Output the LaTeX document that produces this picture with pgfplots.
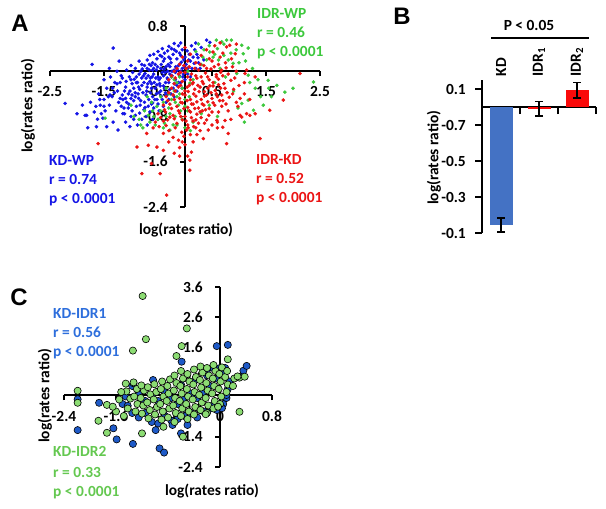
\documentclass[border=0pt]{standalone}
\usepackage{fontspec}
\setmainfont{Carlito}
\newfontfamily\arialfont{Liberation Sans}
\usepackage{pgfplots}
\pgfplotsset{compat=1.18}
\definecolor{Ablue}{RGB}{20,20,230}
\definecolor{Agreen}{RGB}{60,200,60}
\definecolor{Ared}{RGB}{235,20,20}
\definecolor{Bblue}{RGB}{68,114,196}
\definecolor{Bred}{RGB}{250,10,10}
\definecolor{Cblue}{RGB}{30,90,200}
\definecolor{Cgreen}{RGB}{140,220,115}
\definecolor{Ctblue}{RGB}{45,110,220}
\definecolor{Ctgreen}{RGB}{100,200,80}
\newcommand{\lbl}{\fontsize{15.5}{18}\selectfont\bfseries}
\pgfplotsset{myaxis/.style={scale only axis, axis lines=middle,
  axis line style={-, line width=1.6bp, black},
  every tick/.style={line width=1.6bp, black},
  major tick length=5bp, tick align=outside,
  hide obscured x ticks=false, hide obscured y ticks=false,
  ticklabel style={font=\lbl, inner sep=0pt},
  clip=false}}
\begin{document}
\begin{tikzpicture}
\useasboundingbox (0bp,0bp) rectangle (606bp,509bp);
% ---------------- Panel A
\begin{axis}[myaxis, at={(50bp,302bp)}, anchor=south west,
  width=270bp, height=181bp,
  xmin=-2.5, xmax=2.5, ymin=-2.4, ymax=0.8,
  xtick={-2.5,-1.5,-0.5,0.5,1.5,2.5},
  xticklabels={-2.5,-1.5,-0.5,0.5,1.5,2.5},
  ytick={0.8,0,-0.8,-1.6,-2.4},
  yticklabels={0.8,0,-0.8,-1.6,-2.4},
  xticklabel style={anchor=north, yshift=-10bp},
  yticklabel style={anchor=east, xshift=-12bp}]
\addplot[only marks, mark=*, mark size=1.6bp, color=Ablue] coordinates {
(-0.05,0.05)(-0.12,0.1)(-0.2,0.02)(-0.28,-0.05)(-0.35,0.08)(-0.42,-0.02)(-0.5,-0.1)(-0.58,-0.05)(-0.65,-0.18)(-0.72,-0.12)(-0.8,-0.25)(-0.88,-0.2)(-0.95,-0.3)(-0.1,-0.08)(-0.18,-0.15)(-0.26,0.15)(-0.33,-0.12)(-0.4,0.18)(-0.47,-0.22)(-0.55,0.12)(-0.62,-0.3)(-0.7,0.05)(-0.78,-0.38)(-0.85,-0.05)(-0.92,-0.45)(-1.0,-0.15)(-1.05,-0.4)(-1.1,-0.28)(-1.15,-0.5)(-1.2,-0.2)(-1.25,-0.35)(-0.02,0.2)(-0.08,0.28)(-0.15,0.22)(-0.22,0.3)(-0.3,0.25)(0.02,0.12)(0.05,-0.05)(0.08,0.3)(0.1,0.18)(0.15,0.25)(0.18,0.38)(0.22,0.3)(0.25,0.15)(0.3,0.42)(0.12,0.45)(-0.05,0.38)(-0.12,0.45)(-0.25,0.4)(-0.38,0.32)(-0.45,0.05)(-0.52,0.22)(-0.6,0.15)(-0.68,-0.08)(-0.75,0.1)(-0.82,0.0)(-0.9,-0.1)(-0.97,-0.02)(-1.03,-0.1)(-0.3,-0.2)(-0.38,-0.3)(-0.45,-0.35)(-0.53,-0.4)(-0.6,-0.45)(-0.67,-0.5)(-0.75,-0.55)(-0.83,-0.6)(-0.9,-0.62)(-0.98,-0.7)(-1.05,-0.65)(-1.12,-0.75)(-0.22,-0.3)(-0.15,-0.25)(-0.08,-0.2)(0.0,-0.15)(-0.35,-0.42)(-0.42,-0.5)(-0.5,-0.58)(-0.58,-0.65)(-0.65,-0.72)(-0.72,-0.8)(-0.8,-0.85)(-0.55,-0.3)(-0.48,-0.15)(-0.4,-0.08)(-0.32,0.0)(-0.25,-0.1)(-0.62,-0.22)(-0.7,-0.28)(-0.76,-0.2)(-0.84,-0.32)(-0.92,-0.38)(-1.0,-0.48)(-1.08,-0.55)(-1.18,-0.62)(-1.28,-0.7)(-1.35,-0.45)(-1.4,-0.6)(-1.45,-0.3)(-1.5,-0.5)(-1.55,-0.75)(-1.6,-0.4)(-1.65,-0.62)(-1.72,0.12)(-1.33,0.41)(-1.22,0.18)(-1.26,0.0)(-1.45,-0.98)(-1.64,-0.98)(-1.82,-0.78)(-1.33,-0.9)(-1.24,-1.04)(-1.02,-0.98)(-1.57,-0.6)(-1.15,-0.75)(-1.39,-0.42)(-2.22,-0.57)(-1.85,-0.78)(-1.8,-1.0)(-1.52,-0.83)(-0.2,0.49)(0.4,0.55)(0.46,0.51)(-0.5,0.35)(-0.65,0.28)(-0.85,0.18)(-1.0,0.1)(-0.15,-0.35)(-0.05,-0.3)(0.05,0.05)(0.1,-0.1)(0.2,0.05)(-0.3,-0.5)(-0.2,-0.45)(-0.95,-0.85)(-0.88,-0.95)(-0.7,-0.95)(-1.1,-0.9)(-0.6,-0.85)(-1.2,-0.48)(-1.3,-0.2)(-1.38,-0.1)(-1.48,-0.7)(-1.62,-0.85)(-1.75,-0.55)(-2.0,-0.75)(-1.9,-0.6)(-0.58,0.05)(-0.44,0.12)(-0.36,-0.2)(-0.28,0.08)(-0.18,-0.02)(-0.1,0.12)(-0.66,0.02)(-0.74,-0.04)(-0.8,-0.12)(-0.54,-0.12)(-0.46,-0.26)(-0.38,0.22)(-0.16,0.35)(0.0,0.25)(0.35,0.2)(0.28,0.05)(-1.12,-0.35)(-1.18,-0.08)(-0.98,-0.22)(-0.86,-0.48)(-0.72,-0.42)(-0.64,-0.38)(-0.4,-0.62)(-0.48,-0.7)(-0.35,-0.55)
(-0.03,-0.05)(-0.14,0.02)(-0.24,-0.08)(-0.31,0.12)(-0.39,0.04)(-0.46,-0.12)(-0.53,0.02)(-0.61,-0.1)(-0.69,-0.22)(-0.77,-0.08)(-0.86,-0.28)(-0.94,-0.14)(-1.02,-0.35)(-1.09,-0.18)(-1.16,-0.42)(-1.23,-0.55)(-1.31,-0.38)(-0.07,0.16)(-0.17,0.08)(-0.27,0.22)(-0.37,-0.02)(-0.43,0.26)(-0.51,0.08)(-0.57,-0.2)(-0.63,0.1)(-0.71,-0.35)(-0.79,0.04)(-0.87,-0.4)(-0.95,-0.52)(-1.04,-0.58)(-1.13,-0.65)(-0.2,-0.22)(-0.28,-0.32)(-0.36,-0.38)(-0.44,-0.44)(-0.52,-0.5)(-0.6,-0.56)(-0.68,-0.62)(-0.76,-0.68)(-0.84,-0.74)(-0.92,-0.78)(0.04,0.36)(0.13,0.05)(0.17,0.14)(0.24,0.24)(0.07,0.2)(-0.1,0.32)(-0.2,0.38)(-0.32,0.36)(-0.46,0.28)(-0.58,0.3)(-0.7,0.2)(-0.8,0.12)(-0.92,0.05)(-1.08,0.02)(-1.16,-0.12)(-1.26,-0.22)(-1.34,-0.3)(-1.42,-0.45)(-1.5,-0.62)(-1.58,-0.5)(-1.68,-0.72)(-1.1,-0.48)(-0.98,-0.42)(-0.82,-0.52)(-0.74,-0.64)(-0.62,-0.58)(-0.56,-0.5)(-0.48,-0.38)(-0.4,-0.26)(-0.32,-0.14)(-0.24,0.0)(-0.16,0.06)(-0.08,0.0)(0.0,0.06)(-0.04,-0.1)(-0.12,-0.2)(-0.26,-0.4)(-0.6,0.02)(-0.66,0.12)(-0.9,-0.2)(-0.64,-0.12)(-0.52,-0.24)(-0.42,0.4)(-0.3,0.44)(-0.08,0.5)(0.2,0.5)(-1.4,0.05)(-1.5,-0.15)(-1.0,-0.8)
};
\addplot[only marks, mark=*, mark size=1.6bp, color=Agreen] coordinates {
(0.68,0.52)(0.77,0.55)(0.86,0.55)(1.05,0.46)(1.17,0.41)(1.08,0.31)(0.89,0.14)(0.96,-0.04)(1.17,-0.07)(1.54,-0.16)(1.85,-0.37)(2.38,-0.19)(1.17,-0.51)(1.05,-0.57)(1.27,-0.69)(0.52,0.25)(0.46,0.34)(0.09,-0.21)(0.6,0.4)(0.55,0.3)(0.4,0.2)(0.35,0.38)(0.3,0.12)(0.72,0.28)(0.8,0.2)(0.65,0.05)(0.75,-0.1)(1.0,0.15)(1.3,-0.3)(1.4,-0.45)(0.9,-0.35)(1.2,-0.2)(0.2,0.35)(0.25,0.48)
(-0.68,-0.78)(-0.78,-1.0)(-0.28,-1.04)(-0.15,-0.2)(-0.2,-0.35)(-0.25,-0.5)(-0.3,-0.65)(-0.35,-0.8)(-0.4,-0.55)(-0.45,-0.7)(-0.5,-0.85)(-0.55,-0.95)(-0.6,-0.7)(-0.65,-0.9)(-0.1,-0.1)(-0.05,-0.3)(0.0,-0.5)(0.05,-0.7)(-0.12,-0.6)(-0.18,-0.8)(0.1,-1.05)(0.15,-0.9)(0.3,-0.75)(-0.22,-0.95)(-0.85,-0.85)(-0.95,-0.8)(-1.0,-0.6)(-0.7,-0.45)(-0.35,-0.3)(-0.25,-0.1)(0.05,0.0)(0.15,-0.15)(1.55,-0.3)(1.7,-0.25)(0.55,-0.2)(0.45,-0.6)(0.6,-0.8)(-1.48,-0.83)(-0.15,-0.45)(-0.08,-0.7)
(0.58,0.55)(0.72,0.48)(0.95,0.38)(1.12,0.18)(1.25,0.05)(1.35,-0.15)(1.45,-0.6)(1.6,-0.45)(0.98,-0.65)(1.1,-0.9)(0.45,0.45)(0.33,0.25)(0.62,0.2)(0.85,0.32)(2.0,-0.3)(-0.18,-0.55)(-0.28,-0.75)(-0.38,-0.92)(-0.45,-0.45)(-0.52,-0.62)(-0.58,-0.8)(-0.62,-0.55)(-0.75,-0.7)(-0.82,-0.95)(-0.1,-0.4)(0.0,-0.62)(-0.05,-0.85)(0.08,-0.45)(-0.3,-0.4)(-0.2,-0.15)(-0.15,-0.95)(0.0,-1.0)(-0.4,-1.0)
};
\addplot[only marks, mark=*, mark size=1.6bp, color=Ared] coordinates {
(0.55,0.45)(0.77,0.43)(0.83,0.46)(0.65,0.5)(0.95,0.48)(0.0,0.42)
(0.52,0.34)(0.93,0.31)(0.3,0.28)(0.1,0.3)(0.7,0.32)(-0.05,0.25)(0.45,0.22)
(-0.1,0.12)(0.05,0.18)(0.2,0.15)(0.35,0.1)(0.5,0.18)(0.62,0.12)(0.75,0.15)(0.88,0.08)(1.14,0.02)(1.11,-0.04)(2.13,-0.04)
(-0.2,0.0)(-0.08,-0.02)(0.02,0.05)(0.12,-0.05)(0.25,0.02)(0.38,-0.03)(0.48,0.04)(0.58,-0.06)(0.68,0.02)(0.8,-0.05)(0.95,0.0)(1.3,-0.1)
(-0.3,-0.15)(-0.18,-0.12)(-0.05,-0.18)(0.05,-0.1)(0.15,-0.2)(0.22,-0.12)(0.32,-0.18)(0.42,-0.1)(0.52,-0.2)(0.62,-0.14)(0.72,-0.22)(0.85,-0.16)(1.0,-0.25)
(-0.25,-0.3)(-0.12,-0.28)(0.0,-0.35)(0.08,-0.25)(0.18,-0.32)(0.28,-0.28)(0.36,-0.36)(0.46,-0.26)(0.56,-0.34)(0.66,-0.3)(0.78,-0.38)(0.9,-0.32)(1.1,-0.4)
(-0.35,-0.45)(-0.22,-0.42)(-0.1,-0.48)(0.0,-0.42)(0.1,-0.5)(0.2,-0.44)(0.3,-0.5)(0.4,-0.42)(0.5,-0.48)(0.6,-0.45)(0.7,-0.52)(0.82,-0.46)(0.95,-0.55)(1.2,-0.5)
(-0.4,-0.6)(-0.28,-0.58)(-0.15,-0.62)(-0.05,-0.56)(0.05,-0.64)(0.15,-0.58)(0.25,-0.65)(0.35,-0.6)(0.45,-0.66)(0.55,-0.6)(0.68,-0.62)(0.8,-0.7)(1.82,-0.51)
(-0.5,-0.75)(-0.36,-0.72)(-0.22,-0.78)(-0.1,-0.74)(0.0,-0.8)(0.1,-0.72)(0.22,-0.76)(0.32,-0.7)(0.44,-0.78)(0.59,-0.87)(0.74,-0.87)(1.02,-0.78)(1.14,-0.75)(1.30,-0.75)(1.57,-0.69)(1.2,-0.78)(1.05,-0.81)
(-0.55,-0.9)(-0.4,-0.88)(-0.28,-0.81)(-0.15,-0.92)(-0.05,-0.86)(0.05,-0.95)(0.15,-0.88)(0.25,-0.92)(0.4,-0.86)(0.7,-0.99)(0.5,-0.95)
(-0.59,-1.0)(-0.4,-1.1)(-0.22,-1.17)(-0.12,-1.22)(0.03,-1.04)(0.43,-1.04)(0.34,-1.19)(0.8,-1.1)(-0.71,-1.1)(0.1,-1.12)(-0.3,-1.05)(0.2,-1.0)
(-0.52,-1.34)(-0.89,-1.34)(-0.68,-1.31)(-1.61,-1.28)(-0.80,-1.81)(-0.46,-1.81)(-0.34,-2.19)(0.09,-1.75)(0.09,-1.57)(0.12,-1.43)(-0.62,-1.63)(1.39,-1.19)(0.77,-1.28)(-0.1,-1.35)(0.0,-1.3)(-0.2,-1.45)(0.05,-1.5)(-0.4,-1.4)(-0.05,-1.25)
(-0.15,0.05)(-0.02,0.1)(0.08,0.08)(0.18,0.05)(0.28,0.12)(0.4,0.05)(0.54,0.08)(0.66,-0.02)(0.76,0.06)(-0.25,-0.08)(-0.12,-0.05)(0.0,-0.02)(0.1,-0.15)(0.2,-0.08)(0.3,-0.1)(0.45,-0.15)(0.58,-0.1)(0.7,-0.08)(-0.2,-0.22)(-0.08,-0.25)(0.04,-0.28)(0.14,-0.22)(0.24,-0.25)(0.34,-0.22)(0.42,-0.3)(0.52,-0.26)(0.62,-0.24)(0.74,-0.3)(-0.3,-0.38)(-0.18,-0.35)(-0.05,-0.4)(0.06,-0.36)(0.16,-0.4)(0.26,-0.36)(0.36,-0.44)(0.48,-0.38)(0.58,-0.4)(0.68,-0.42)(0.88,-0.4)(-0.32,-0.52)(-0.2,-0.5)(-0.08,-0.55)(0.04,-0.52)(0.12,-0.58)(0.22,-0.54)(0.32,-0.58)(0.42,-0.54)(0.52,-0.56)(0.64,-0.52)(0.76,-0.58)(-0.38,-0.68)(-0.25,-0.66)(-0.12,-0.7)(-0.02,-0.66)(0.08,-0.7)(0.18,-0.66)(0.28,-0.72)(0.38,-0.68)(0.5,-0.72)(0.62,-0.72)(-0.45,-0.82)(-0.32,-0.86)(-0.2,-0.84)(-0.08,-0.8)(0.02,-0.88)(0.12,-0.82)(0.2,-0.86)(0.3,-0.82)(0.36,-0.92)(-0.48,-0.98)(-0.35,-0.96)(-0.18,-1.0)(-0.06,-1.08)(0.06,-1.0)(0.16,-0.98)(0.28,-1.05)(-0.02,-1.15)(0.22,-1.12)(0.98,-0.62)(0.92,-0.12)(0.86,0.22)(1.02,-0.48)(1.1,-0.2)(0.6,-0.9)(0.85,-0.85)(0.65,0.25)(0.4,0.38)(-0.1,-1.5)(0.15,-1.25)(-0.3,-1.25)(0.6,-1.0)
};
\end{axis}
% ---------------- Panel B
\begin{axis}[myaxis, at={(482bp,276bp)}, anchor=south west,
  width=114bp, height=153bp,
  xmin=0, xmax=3, ymin=-0.7, ymax=0.15,
  major tick length=7bp,
  xtick={1,2,3}, xticklabels={},
  ytick={0.1,-0.1,-0.3,-0.5,-0.7},
  yticklabels={0.1,-0.7,-0.5,-0.3,-0.1},
  yticklabel style={anchor=east, xshift=-9bp}]
\addplot[ybar, bar width=23bp, bar shift=0pt, fill=Bblue, draw=none,
  error bars/.cd, y dir=both, y explicit,
  error bar style={line width=1.5bp, black},
  error mark options={rotate=90, mark size=4bp, line width=1.5bp, black}]
  coordinates {(0.5,-0.656) +- (0,0.038)};
\addplot[ybar, bar width=23bp, bar shift=0pt, fill=Bred, draw=none,
  error bars/.cd, y dir=both, y explicit,
  error bar style={line width=1.5bp, black},
  error mark options={rotate=90, mark size=4bp, line width=1.5bp, black}]
  coordinates {(1.5,-0.01) +- (0,0.04)};
\addplot[ybar, bar width=23bp, bar shift=0pt, fill=Bred, draw=none,
  error bars/.cd, y dir=both, y explicit,
  error bar style={line width=1.5bp, black},
  error mark options={rotate=90, mark size=4bp, line width=1.5bp, black}]
  coordinates {(2.5,0.092) +- (0,0.043)};
\node[rotate=90, anchor=west, font=\lbl, inner sep=0pt] at (axis cs:0.5,0.17) {KD};
\node[rotate=90, anchor=west, font=\lbl, inner sep=0pt] at (axis cs:1.5,0.17) {IDR\textsubscript{1}};
\node[rotate=90, anchor=west, font=\lbl, inner sep=0pt] at (axis cs:2.5,0.17) {IDR\textsubscript{2}};
\end{axis}
% ---------------- Panel C
\begin{axis}[myaxis, at={(64bp,42bp)}, anchor=south west,
  width=208bp, height=180bp,
  xmin=-2.4, xmax=0.8, ymin=-2.4, ymax=3.6,
  xtick={-2.4,-1.6,-0.8,0,0.8},
  xticklabels={-2.4,-1.6,-0.8,0,0.8},
  ytick={3.6,2.6,1.6,0.6,-0.4,-1.4,-2.4},
  yticklabels={3.6,2.6,1.6,0.6,-0.4,-1.4,-2.4},
  xticklabel style={anchor=north, yshift=-11bp},
  yticklabel style={anchor=east, xshift=-12bp}]
\addplot[only marks, mark=*, mark size=3.6bp, mark options={draw=black, line width=0.6bp, fill=Cblue}] coordinates {
(-1.5,-0.3)(-1.45,-0.05)(-1.35,-0.6)(-1.25,-0.75)(-1.15,-0.6)(-1.05,-0.9)(-0.95,-0.95)(-0.85,-0.7)(-0.75,-0.85)(-0.65,-0.8)(-0.55,-0.7)(-0.45,-0.6)(-0.35,-0.75)(-0.25,-0.55)(-0.15,-0.45)(-0.05,-0.5)(0.05,-0.3)(0.1,-0.1)(0.12,0.2)(0.15,0.45)(0.05,0.7)(-0.05,0.55)(-0.15,0.3)(-0.25,0.1)(-0.35,-0.1)(-0.45,0.05)(-0.55,-0.15)(-0.65,-0.3)(-0.75,-0.1)(-0.85,0.1)(-0.95,-0.2)(-1.05,0.0)(-1.15,-0.2)(-1.25,0.05)(-1.35,0.3)(-0.6,0.35)(-0.4,0.45)(-0.2,0.65)(0.0,0.9)(-0.31,-0.5)(-0.51,-0.67)(-0.15,-0.39)(0.03,-0.44)(0.1,0.0)(0.08,0.9)(0.31,0.61)(0.36,0.81)(0.41,0.97)(-0.05,1.63)(0.12,1.67)(-0.59,1.11)(-1.03,0.5)(-1.33,0.39)(-0.62,0.33)
(-2.19,-1.17)(-2.19,-0.14)(-1.86,-0.26)(-1.59,-1.48)(-1.34,-1.63)(-0.93,-1.78)(-0.86,-1.92)(-0.6,-1.28)(-0.5,-1.0)(-0.73,-1.0)(-0.99,-1.17)(-1.64,-1.11)(-1.42,-0.36)(-0.13,-0.37)(-0.2,0.83)(-0.1,0.89)
};
\addplot[only marks, mark=*, mark size=3.6bp, mark options={draw=black, line width=0.6bp, fill=Cgreen}] coordinates {
(-1.42,-0.45)(-1.38,-0.12)(-1.44,0.12)(-1.45,0.38)
(-1.3,-0.55)(-1.27,-0.3)(-1.32,-0.05)(-1.28,0.2)(-1.33,0.42)
(-1.2,-0.62)(-1.18,-0.35)(-1.22,-0.1)(-1.17,0.15)(-1.21,0.32)
(-1.1,-0.78)(-1.08,-0.5)(-1.12,-0.25)(-1.07,0.02)(-1.11,0.26)
(-1.0,-0.65)(-0.97,-0.4)(-1.02,-0.15)(-0.98,0.1)(-1.01,0.36)
(-0.9,-0.82)(-0.88,-0.55)(-0.92,-0.3)(-0.87,-0.05)(-0.91,0.2)(-0.89,0.45)
(-0.8,-0.75)(-0.78,-0.45)(-0.82,-0.2)(-0.79,0.05)(-0.81,0.3)(-0.77,0.52)
(-0.7,-0.9)(-0.68,-0.6)(-0.72,-0.35)(-0.69,-0.1)(-0.71,0.15)(-0.67,0.4)(-0.7,0.65)
(-0.6,-0.7)(-0.58,-0.45)(-0.62,-0.2)(-0.59,0.05)(-0.61,0.3)(-0.57,0.55)(-0.6,0.8)
(-0.5,-0.8)(-0.48,-0.55)(-0.52,-0.3)(-0.49,-0.05)(-0.51,0.2)(-0.47,0.45)(-0.5,0.7)
(-0.4,-0.65)(-0.38,-0.4)(-0.42,-0.15)(-0.39,0.1)(-0.41,0.35)(-0.37,0.6)(-0.4,0.85)
(-0.3,-0.5)(-0.28,-0.25)(-0.32,0.0)(-0.29,0.25)(-0.31,0.5)(-0.27,0.75)(-0.3,0.95)
(-0.2,-0.6)(-0.18,-0.35)(-0.22,-0.1)(-0.19,0.15)(-0.21,0.4)(-0.17,0.65)(-0.2,0.9)
(-0.1,-0.45)(-0.08,-0.2)(-0.12,0.05)(-0.09,0.3)(-0.11,0.55)(-0.07,0.8)(-0.1,1.0)
(0.0,-0.3)(0.02,-0.05)(-0.02,0.2)(0.01,0.45)(-0.01,0.7)(0.03,0.92)
(0.1,0.1)(0.12,0.35)(0.08,0.6)(0.11,0.8)
(0.2,0.3)(0.22,0.55)(0.3,0.58)(0.27,0.62)
(-1.55,-0.15)(-1.52,0.1)(-1.6,-0.55)(-1.48,-0.7)
(-1.19,3.3)(-1.14,1.86)(-1.34,1.48)(-0.51,2.22)(-0.59,1.63)(-0.67,1.3)(-2.19,0.14)(-2.19,-0.26)(-1.87,-0.86)(-1.74,-1.26)(-1.2,-1.28)(-0.87,-1.06)(-0.57,-1.39)(0.3,-0.56)(0.12,1.19)(0.38,0.61)(-0.03,-0.39)(-1.74,-0.33)(-1.65,-0.39)(-0.22,-0.64)
};
\end{axis}
% ---------------- texts
\node[font=\arialfont\bfseries\fontsize{24}{26}\selectfont] at (20bp,486bp) {A};
\node[font=\arialfont\bfseries\fontsize{24}{26}\selectfont] at (402bp,493bp) {B};
\node[font=\arialfont\bfseries\fontsize{24}{26}\selectfont] at (19bp,212bp) {C};
\node[font=\lbl, rotate=90] at (28bp,403bp) {log(rates ratio)};
\node[font=\lbl] at (186bp,279bp) {log(rates ratio)};
\node[font=\lbl, rotate=90] at (434bp,351bp) {log(rates ratio)};
\node[font=\lbl, rotate=90] at (45bp,113bp) {log(rates ratio)};
\node[font=\lbl] at (212bp,18bp) {log(rates ratio)};
\node[font=\lbl] at (529bp,484bp) {P < 0.05};
\draw[line width=2.5bp] (491bp,471bp) -- (589bp,471bp);
\begin{scope}[every node/.style={font=\lbl, anchor=base west, inner sep=0pt}]
\node[text=Agreen] at (257bp,490bp) {IDR-WP};
\node[text=Agreen] at (257bp,471bp) {r = 0.46};
\node[text=Agreen] at (257bp,452bp) {p < 0.0001};
\node[text=Ablue] at (49bp,343bp) {KD-WP};
\node[text=Ablue] at (49bp,324bp) {r = 0.74};
\node[text=Ablue] at (49bp,305bp) {p < 0.0001};
\node[text=Ared] at (256bp,344bp) {IDR-KD};
\node[text=Ared] at (256bp,325bp) {r = 0.52};
\node[text=Ared] at (256bp,306bp) {p < 0.0001};
\node[text=Ctblue] at (53bp,190bp) {KD-IDR1};
\node[text=Ctblue] at (53bp,171bp) {r = 0.56};
\node[text=Ctblue] at (53bp,152bp) {p < 0.0001};
\node[text=Ctgreen] at (53bp,52bp) {KD-IDR2};
\node[text=Ctgreen] at (53bp,32bp) {r = 0.33};
\node[text=Ctgreen] at (53bp,13bp) {p < 0.0001};
\end{scope}
\end{tikzpicture}
\end{document}
